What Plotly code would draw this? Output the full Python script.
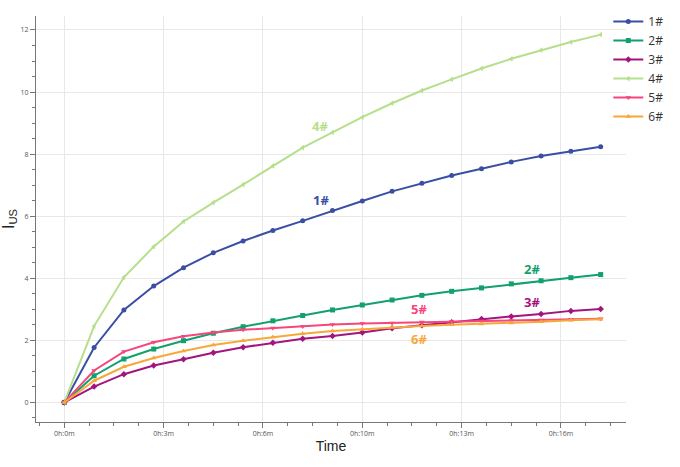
import plotly.graph_objects as go

t_min = list(range(19))
s1 = [0, 1.77, 2.98, 3.75, 4.34, 4.82, 5.20, 5.54, 5.85, 6.18, 6.49, 6.80, 7.06, 7.31, 7.53, 7.75, 7.94, 8.09, 8.24]
s2 = [0, 0.86, 1.40, 1.72, 1.99, 2.23, 2.44, 2.63, 2.80, 2.98, 3.14, 3.30, 3.45, 3.58, 3.69, 3.82, 3.92, 4.02, 4.12]
s3 = [0, 0.51, 0.91, 1.19, 1.39, 1.60, 1.78, 1.92, 2.05, 2.14, 2.25, 2.39, 2.49, 2.58, 2.69, 2.77, 2.85, 2.95, 3.01]
s4 = [0, 2.46, 4.03, 5.02, 5.83, 6.44, 7.02, 7.62, 8.21, 8.70, 9.19, 9.64, 10.05, 10.41, 10.76, 11.07, 11.35, 11.61, 11.85]
s5 = [0, 1.03, 1.64, 1.94, 2.13, 2.25, 2.34, 2.40, 2.45, 2.51, 2.54, 2.56, 2.59, 2.61, 2.62, 2.64, 2.66, 2.68, 2.70]
s6 = [0, 0.70, 1.15, 1.43, 1.66, 1.85, 1.99, 2.11, 2.21, 2.30, 2.36, 2.42, 2.46, 2.50, 2.53, 2.56, 2.60, 2.65, 2.68]

names = ["1#", "2#", "3#", "4#", "5#", "6#"]
series = [s1, s2, s3, s4, s5, s6]
colors = ["#3a4fa3", "#12a06e", "#a3157e", "#b6df8c", "#f5477c", "#f7a83a"]
symbols = ["circle", "square", "diamond", "triangle-left", "triangle-down", "triangle-up"]

x_tickvals = [0, 10/3, 20/3, 10, 40/3, 50/3]
x_ticktext = ["0h:0m", "0h:3m", "0h:6m", "0h:10m", "0h:13m", "0h:16m"]
y_tickvals = [0, 2, 4, 6, 8, 10, 12]

label_x = [8.6, 15.68, 15.68, 8.58, 11.9, 11.9]
label_y = [6.52, 4.30, 3.24, 8.91, 3.02, 2.05]

fig = go.Figure()
for n, s, c, sym in zip(names, series, colors, symbols):
    fig.add_trace(go.Scatter(
        x=t_min, y=s, name=n, mode="lines+markers",
        line=dict(color=c, width=2),
        marker=dict(color=c, symbol=sym, size=5),
    ))

for n, c, lx, ly in zip(names, colors, label_x, label_y):
    fig.add_annotation(x=lx, y=ly, text="<b>" + n + "</b>", showarrow=False,
                       font=dict(color=c, size=13, family="Open Sans"))

minor_x = [k * 5 / 6 for k in range(-1, 23)]

fig.update_layout(
    width=680, height=467,
    margin=dict(l=36, r=54, t=16, b=45, autoexpand=False),
    paper_bgcolor="white", plot_bgcolor="white",
    showlegend=True,
    legend=dict(x=0.97, y=1.022, xanchor="left", yanchor="top",
                font=dict(size=12, color="#333333", family="Open Sans"),
                bgcolor="rgba(0,0,0,0)", itemwidth=30, tracegroupgap=0),
    xaxis=dict(
        range=[-0.95, 18.85], tickmode="array", tickvals=x_tickvals, ticktext=x_ticktext,
        showgrid=True, gridcolor="#e8e8e8", gridwidth=1, zeroline=False,
        showline=True, linecolor="#777777", linewidth=1,
        ticks="outside", ticklen=5, tickcolor="#777777",
        tickfont=dict(size=7, color="#555555", family="Open Sans"),
        minor=dict(tickmode="array", tickvals=minor_x, ticks="outside", ticklen=3, tickcolor="#777777", showgrid=False),
        title=dict(text="Time", font=dict(size=14, color="#222222", family="Liberation Sans"), standoff=3),
    ),
    yaxis=dict(
        range=[-0.63, 12.45], tickmode="array", tickvals=y_tickvals,
        showgrid=True, gridcolor="#e8e8e8", gridwidth=1, zeroline=False,
        showline=True, linecolor="#777777", linewidth=1,
        ticks="outside", ticklen=5, tickcolor="#777777",
        tickfont=dict(size=7, color="#555555", family="Open Sans"),
        minor=dict(dtick=0.5, ticks="outside", ticklen=3, tickcolor="#777777", showgrid=False),
        title=dict(text="I<sub>US</sub>", font=dict(size=16, color="#222222", family="Liberation Sans"), standoff=4),
    ),
)

fig.write_html("out.html")
